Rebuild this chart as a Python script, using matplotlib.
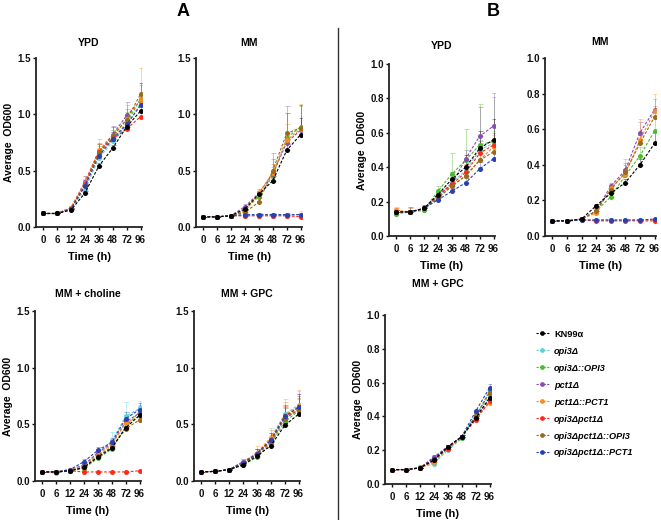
import matplotlib
matplotlib.use("Agg")
import matplotlib.pyplot as plt
from matplotlib.lines import Line2D
import numpy as np

plt.rcParams['font.family'] = ['Liberation Sans', 'DejaVu Sans']
plt.rcParams['font.weight'] = 'bold'

times = ["0", "6", "12", "24", "36", "48", "72", "96"]
strains = ["KN99α", "opi3Δ", "opi3Δ::OPI3", "pct1Δ", "pct1Δ::PCT1",
           "opi3Δpct1Δ", "opi3Δpct1Δ::OPI3", "opi3Δpct1Δ::PCT1"]
colors = ["#000000", "#5fd0d6", "#4cbb2e", "#8a4cb0", "#ff8a1c",
          "#ff2a1a", "#9a6a1c", "#2a40b0"]

# Panel A, YPD (rows follow strains)
a_ypd = [
    [0.12, 0.12, 0.15, 0.30, 0.54, 0.70, 0.89, 1.03],
    [0.12, 0.12, 0.16, 0.33, 0.61, 0.76, 0.90, 1.10],
    [0.12, 0.12, 0.16, 0.38, 0.65, 0.79, 0.92, 1.14],
    [0.12, 0.12, 0.17, 0.40, 0.67, 0.82, 0.99, 1.12],
    [0.12, 0.12, 0.17, 0.39, 0.68, 0.80, 0.96, 1.13],
    [0.12, 0.12, 0.16, 0.38, 0.67, 0.78, 0.87, 0.98],
    [0.12, 0.12, 0.16, 0.37, 0.66, 0.81, 0.95, 1.18],
    [0.12, 0.12, 0.16, 0.36, 0.63, 0.78, 0.91, 1.08],
]
a_ypd_err = [
    [0.00, 0.00, 0.01, 0.02, 0.03, 0.03, 0.04, 0.05],
    [0.00, 0.00, 0.01, 0.04, 0.06, 0.06, 0.08, 0.10],
    [0.00, 0.00, 0.01, 0.05, 0.07, 0.07, 0.10, 0.12],
    [0.00, 0.00, 0.02, 0.05, 0.08, 0.08, 0.12, 0.16],
    [0.00, 0.00, 0.02, 0.06, 0.10, 0.09, 0.12, 0.28],
    [0.00, 0.00, 0.01, 0.04, 0.07, 0.06, 0.06, 0.05],
    [0.00, 0.00, 0.01, 0.05, 0.08, 0.08, 0.10, 0.10],
    [0.00, 0.00, 0.01, 0.04, 0.06, 0.06, 0.08, 0.10],
]

# Panel A, MM
a_mm = [
    [0.09, 0.09, 0.10, 0.16, 0.29, 0.41, 0.68, 0.82],
    [0.09, 0.09, 0.10, 0.10, 0.10, 0.10, 0.10, 0.11],
    [0.09, 0.09, 0.10, 0.15, 0.27, 0.45, 0.79, 0.89],
    [0.09, 0.09, 0.10, 0.18, 0.30, 0.47, 0.75, 0.86],
    [0.09, 0.09, 0.10, 0.14, 0.30, 0.48, 0.77, 0.87],
    [0.09, 0.09, 0.10, 0.10, 0.10, 0.10, 0.10, 0.09],
    [0.09, 0.09, 0.10, 0.13, 0.22, 0.50, 0.83, 0.88],
    [0.09, 0.09, 0.10, 0.11, 0.11, 0.11, 0.11, 0.11],
]
a_mm_err = [
    [0.00, 0.00, 0.01, 0.02, 0.03, 0.04, 0.06, 0.15],
    [0.00, 0.00, 0.00, 0.01, 0.01, 0.01, 0.01, 0.03],
    [0.00, 0.00, 0.01, 0.02, 0.04, 0.08, 0.22, 0.18],
    [0.00, 0.00, 0.01, 0.02, 0.04, 0.19, 0.32, 0.22],
    [0.00, 0.00, 0.01, 0.02, 0.03, 0.08, 0.14, 0.22],
    [0.00, 0.00, 0.00, 0.00, 0.00, 0.00, 0.01, 0.01],
    [0.00, 0.00, 0.01, 0.02, 0.04, 0.10, 0.18, 0.20],
    [0.00, 0.00, 0.00, 0.01, 0.01, 0.01, 0.01, 0.01],
]

# Panel A, MM + choline
a_cho = [
    [0.08, 0.08, 0.09, 0.12, 0.21, 0.29, 0.47, 0.58],
    [0.08, 0.07, 0.09, 0.14, 0.24, 0.35, 0.57, 0.64],
    [0.08, 0.08, 0.09, 0.11, 0.20, 0.28, 0.48, 0.61],
    [0.08, 0.08, 0.10, 0.14, 0.25, 0.33, 0.52, 0.60],
    [0.08, 0.08, 0.10, 0.13, 0.23, 0.32, 0.51, 0.57],
    [0.08, 0.08, 0.09, 0.08, 0.08, 0.08, 0.08, 0.09],
    [0.08, 0.08, 0.09, 0.12, 0.22, 0.30, 0.46, 0.54],
    [0.08, 0.08, 0.10, 0.17, 0.27, 0.34, 0.55, 0.63],
]
a_cho_err = [
    [0.00, 0.00, 0.01, 0.01, 0.02, 0.02, 0.03, 0.04],
    [0.00, 0.00, 0.01, 0.02, 0.03, 0.08, 0.13, 0.07],
    [0.00, 0.00, 0.01, 0.02, 0.02, 0.03, 0.05, 0.06],
    [0.00, 0.00, 0.01, 0.02, 0.03, 0.04, 0.06, 0.06],
    [0.00, 0.00, 0.01, 0.02, 0.03, 0.04, 0.06, 0.06],
    [0.00, 0.00, 0.00, 0.00, 0.00, 0.00, 0.00, 0.01],
    [0.00, 0.00, 0.01, 0.02, 0.02, 0.03, 0.05, 0.05],
    [0.00, 0.00, 0.01, 0.02, 0.03, 0.04, 0.06, 0.06],
]

# Panel A, MM + GPC
a_gpc = [
    [0.08, 0.085, 0.10, 0.14, 0.22, 0.31, 0.49, 0.59],
    [0.08, 0.085, 0.10, 0.15, 0.24, 0.37, 0.59, 0.67],
    [0.08, 0.085, 0.10, 0.14, 0.21, 0.33, 0.52, 0.62],
    [0.08, 0.085, 0.10, 0.17, 0.24, 0.35, 0.55, 0.63],
    [0.08, 0.085, 0.10, 0.16, 0.25, 0.38, 0.58, 0.66],
    [0.08, 0.085, 0.10, 0.15, 0.24, 0.36, 0.56, 0.65],
    [0.08, 0.085, 0.10, 0.15, 0.23, 0.34, 0.55, 0.63],
    [0.08, 0.085, 0.10, 0.16, 0.24, 0.36, 0.57, 0.65],
]
a_gpc_err = [
    [0.00, 0.00, 0.01, 0.01, 0.02, 0.03, 0.04, 0.05],
    [0.00, 0.00, 0.01, 0.02, 0.04, 0.10, 0.13, 0.12],
    [0.00, 0.00, 0.01, 0.02, 0.03, 0.05, 0.08, 0.10],
    [0.00, 0.00, 0.01, 0.02, 0.04, 0.06, 0.10, 0.12],
    [0.00, 0.00, 0.01, 0.03, 0.06, 0.07, 0.12, 0.14],
    [0.00, 0.00, 0.01, 0.02, 0.04, 0.06, 0.10, 0.12],
    [0.00, 0.00, 0.01, 0.02, 0.03, 0.05, 0.09, 0.10],
    [0.00, 0.00, 0.01, 0.02, 0.04, 0.06, 0.10, 0.12],
]

# Panel B, YPD
b_ypd = [
    [0.14, 0.14, 0.16, 0.24, 0.33, 0.40, 0.51, 0.56],
    [0.13, 0.14, 0.15, 0.23, 0.31, 0.38, 0.50, 0.54],
    [0.13, 0.14, 0.15, 0.26, 0.36, 0.44, 0.53, 0.55],
    [0.14, 0.14, 0.16, 0.24, 0.30, 0.45, 0.58, 0.64],
    [0.15, 0.14, 0.16, 0.22, 0.29, 0.35, 0.44, 0.52],
    [0.14, 0.14, 0.16, 0.23, 0.30, 0.37, 0.48, 0.53],
    [0.14, 0.14, 0.16, 0.22, 0.29, 0.35, 0.44, 0.49],
    [0.14, 0.14, 0.16, 0.21, 0.26, 0.31, 0.39, 0.45],
]
b_ypd_err = [
    [0.01, 0.01, 0.01, 0.02, 0.04, 0.07, 0.10, 0.12],
    [0.01, 0.01, 0.01, 0.02, 0.03, 0.05, 0.06, 0.07],
    [0.01, 0.01, 0.01, 0.03, 0.12, 0.18, 0.24, 0.26],
    [0.01, 0.01, 0.01, 0.02, 0.03, 0.05, 0.17, 0.19],
    [0.02, 0.03, 0.02, 0.03, 0.04, 0.06, 0.08, 0.07],
    [0.02, 0.03, 0.02, 0.03, 0.04, 0.05, 0.07, 0.07],
    [0.01, 0.02, 0.02, 0.02, 0.03, 0.04, 0.06, 0.06],
    [0.01, 0.01, 0.01, 0.02, 0.02, 0.03, 0.04, 0.04],
]

# Panel B, MM
b_mm = [
    [0.085, 0.085, 0.095, 0.17, 0.24, 0.30, 0.40, 0.52],
    [0.085, 0.085, 0.09, 0.09, 0.09, 0.09, 0.09, 0.09],
    [0.085, 0.085, 0.095, 0.14, 0.22, 0.34, 0.45, 0.59],
    [0.085, 0.085, 0.095, 0.14, 0.28, 0.37, 0.58, 0.71],
    [0.085, 0.085, 0.095, 0.13, 0.27, 0.35, 0.54, 0.70],
    [0.085, 0.085, 0.09, 0.085, 0.085, 0.085, 0.085, 0.085],
    [0.085, 0.085, 0.095, 0.14, 0.26, 0.36, 0.52, 0.67],
    [0.085, 0.085, 0.09, 0.09, 0.09, 0.09, 0.09, 0.095],
]
b_mm_err = [
    [0.00, 0.00, 0.01, 0.01, 0.02, 0.02, 0.03, 0.07],
    [0.00, 0.00, 0.00, 0.00, 0.00, 0.00, 0.00, 0.00],
    [0.00, 0.00, 0.01, 0.01, 0.02, 0.03, 0.05, 0.07],
    [0.00, 0.00, 0.01, 0.02, 0.02, 0.04, 0.06, 0.06],
    [0.00, 0.00, 0.01, 0.02, 0.02, 0.08, 0.12, 0.10],
    [0.00, 0.00, 0.00, 0.00, 0.00, 0.00, 0.00, 0.00],
    [0.00, 0.00, 0.01, 0.02, 0.02, 0.04, 0.05, 0.06],
    [0.00, 0.00, 0.00, 0.00, 0.00, 0.00, 0.00, 0.00],
]

# Panel B, MM + GPC
b_gpc = [
    [0.085, 0.085, 0.095, 0.14, 0.22, 0.28, 0.39, 0.51],
    [0.085, 0.085, 0.095, 0.12, 0.20, 0.27, 0.41, 0.52],
    [0.085, 0.085, 0.10, 0.13, 0.21, 0.27, 0.40, 0.55],
    [0.085, 0.085, 0.095, 0.16, 0.22, 0.28, 0.40, 0.50],
    [0.085, 0.085, 0.095, 0.13, 0.21, 0.28, 0.39, 0.48],
    [0.085, 0.085, 0.095, 0.14, 0.21, 0.28, 0.38, 0.49],
    [0.085, 0.085, 0.095, 0.15, 0.22, 0.28, 0.40, 0.54],
    [0.085, 0.085, 0.095, 0.15, 0.22, 0.28, 0.43, 0.57],
]
b_gpc_err = [
    [0.00, 0.00, 0.00, 0.01, 0.01, 0.01, 0.01, 0.02],
    [0.00, 0.00, 0.00, 0.01, 0.01, 0.01, 0.01, 0.02],
    [0.00, 0.00, 0.00, 0.01, 0.01, 0.01, 0.01, 0.02],
    [0.00, 0.00, 0.00, 0.01, 0.01, 0.01, 0.01, 0.02],
    [0.00, 0.00, 0.00, 0.01, 0.01, 0.01, 0.01, 0.02],
    [0.00, 0.00, 0.00, 0.01, 0.01, 0.01, 0.01, 0.02],
    [0.00, 0.00, 0.00, 0.01, 0.01, 0.01, 0.01, 0.02],
    [0.00, 0.00, 0.00, 0.01, 0.01, 0.01, 0.01, 0.02],
]

W, H = 661, 520
fig = plt.figure(figsize=(W / 100, H / 100), dpi=100)


def px_axes(left, bottom, right, top):
    return fig.add_axes([left / W, 1 - bottom / H, (right - left) / W, (bottom - top) / H])


def panel(ax, data, err, title, ymax, yticks, ylabel=True, tpad=9):
    x = np.arange(len(times))
    order = [1, 2, 3, 4, 5, 6, 7, 0]
    for i in order:
        c = colors[i]
        lower = np.zeros(len(times))
        ax.errorbar(x, data[i], yerr=[lower, err[i]], fmt='none', ecolor=c, elinewidth=0.6,
                    capsize=1.8, capthick=0.6, alpha=0.45, zorder=2)
        ax.plot(x, data[i], linestyle=(0, (2.5, 1.5)), linewidth=0.8, color=c,
                marker='o', markersize=3.6, markeredgewidth=0, zorder=3 + (i == 0))
    ax.set_xlim(-0.5, 7.1)
    ax.set_ylim(0, ymax)
    ax.set_xticks(x)
    ax.set_xticklabels(times)
    ax.set_yticks(yticks)
    ax.set_yticklabels([f"{t:.1f}" for t in yticks])
    for s in ['top', 'right']:
        ax.spines[s].set_visible(False)
    for s in ['left', 'bottom']:
        ax.spines[s].set_linewidth(1.3)
        ax.spines[s].set_color('#222222')
    ax.tick_params(axis='both', labelsize=7, width=1.0, length=2.5, colors='#111111')
    ax.tick_params(axis='y', pad=1)
    ax.tick_params(axis='x', pad=3)
    for lab in ax.get_xticklabels() + ax.get_yticklabels():
        lab.set_fontweight('bold')
    ax.set_title(title, fontsize=7.5, fontweight='bold', pad=tpad)
    ax.set_xlabel("Time (h)", fontsize=8, fontweight='bold', labelpad=5)
    if ylabel:
        ax.set_ylabel("Average  OD600", fontsize=7.5, fontweight='bold', labelpad=2.5)


ticksA = [0.0, 0.5, 1.0, 1.5]
ticksB = [0.0, 0.2, 0.4, 0.6, 0.8, 1.0]

ax1 = px_axes(36, 227, 142, 58)
panel(ax1, a_ypd, a_ypd_err, "YPD", 1.5, ticksA)
ax2 = px_axes(196, 227, 302, 58)
panel(ax2, a_mm, a_mm_err, "MM", 1.5, ticksA, ylabel=False)
ax3 = px_axes(35, 481, 141, 311)
panel(ax3, a_cho, a_cho_err, "MM + choline", 1.5, ticksA, tpad=10)
ax4 = px_axes(194, 481, 300, 311)
panel(ax4, a_gpc, a_gpc_err, "MM + GPC", 1.5, ticksA, ylabel=False, tpad=10)

ax5 = px_axes(389, 236, 495, 64)
panel(ax5, b_ypd, b_ypd_err, "YPD", 1.0, ticksB, tpad=11)
ax6 = px_axes(545, 236, 656, 58)
panel(ax6, b_mm, b_mm_err, "MM", 1.0, ticksB, ylabel=False, tpad=9)
ax7 = px_axes(385, 484, 491, 315)
panel(ax7, b_gpc, b_gpc_err, "MM + GPC", 1.0, ticksB, tpad=20)

fig.text(183 / W, 1 - 12 / H, "A", fontsize=13, fontweight='bold', ha='center', va='center')
fig.text(493 / W, 1 - 12 / H, "B", fontsize=13, fontweight='bold', ha='center', va='center')
fig.add_artist(Line2D([338 / W, 338 / W], [0, 1 - 28 / H], color='#333333', linewidth=1.0))

handles = [Line2D([], [], color=c, linestyle=(0, (2, 1.2)), linewidth=0.8, marker='o',
                  markersize=3.4, markeredgewidth=0) for c in colors]
leg = fig.legend(handles, strains, loc='upper left', bbox_to_anchor=(532 / W, 1 - 326 / H),
                 frameon=False, handlelength=1.4, handletextpad=0.6, labelspacing=0.87,
                 borderaxespad=0, prop={'size': 6.6, 'weight': 'bold', 'style': 'italic'})
leg.get_texts()[0].set_fontstyle('normal')

fig.savefig("out.png", dpi=100)
